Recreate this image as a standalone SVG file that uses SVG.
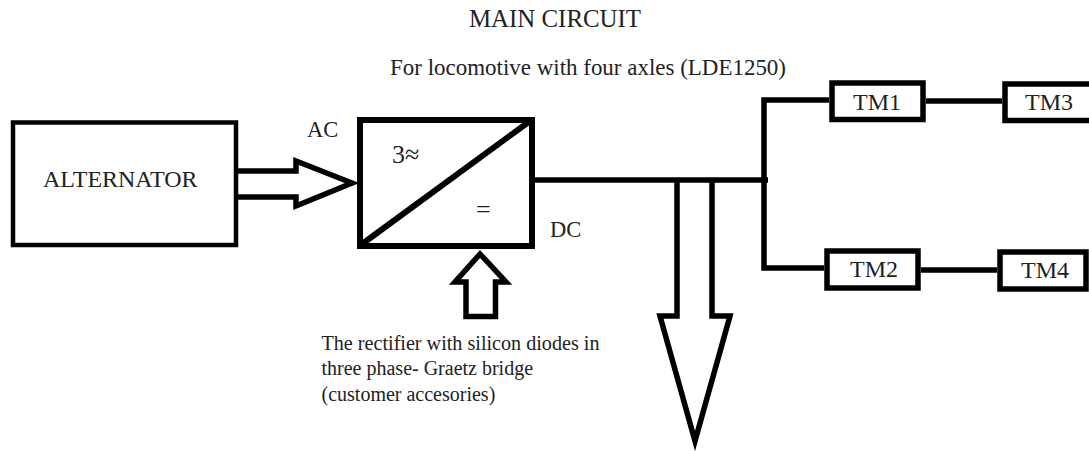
<svg xmlns="http://www.w3.org/2000/svg" width="1089" height="451" viewBox="0 0 1089 451">
<style>
text{font-family:"Liberation Serif","Times New Roman",serif;fill:#222}
.t{font-size:24px}
.s{font-size:20px}
.box{fill:#fff;stroke:#000;stroke-width:5.500}
.ln{fill:none;stroke:#000;stroke-width:5.500;stroke-linejoin:miter}
</style>
<rect width="1089" height="451" fill="#fff"/>
<g id="connectors">
<path class="ln" d="M238 171H296V161L352 183L296 206V197H238"/>
<path class="ln" d="M535 180H768"/>
<path class="ln" d="M829 100H764V268H824"/>
<path class="ln" d="M926 101H1002"/>
<path class="ln" d="M921 270H997"/>
<path class="ln" d="M677 180V316H660L695 441L730 316H712V180"/>
<path class="ln" d="M466 316.500V282H455L480 254L506 282H495.500V316.500Z"/>
</g>
<g id="title"><text x="469" y="27" font-size="25" textLength="172" lengthAdjust="spacingAndGlyphs">MAIN CIRCUIT</text></g>
<g id="subtitle"><text x="390" y="75" font-size="23" textLength="396" lengthAdjust="spacingAndGlyphs">For locomotive with four axles (LDE1250)</text></g>
<g id="alternator"><rect class="box" style="stroke-width:4.500" x="13" y="122.500" width="223" height="122.500"/><text class="t" x="43" y="187" textLength="154.500" lengthAdjust="spacingAndGlyphs">ALTERNATOR</text></g>
<g id="rectifier">
<rect class="box" style="stroke-width:6" x="360" y="120" width="172" height="126"/>
<path class="ln" style="stroke-width:6" d="M362 244L530 121"/>
<text x="392" y="163" font-size="26">3≈</text>
<text x="476" y="218" font-size="26">=</text>
</g>
<g id="ac"><text x="307" y="137" font-size="22.500">AC</text></g>
<g id="dc"><text x="550" y="237" font-size="22.500">DC</text></g>
<g id="tm1"><rect class="box" x="832" y="83" width="91" height="36.500"/><text class="t" x="853" y="110">TM1</text></g>
<g id="tm3"><rect class="box" x="1005" y="84" width="90" height="36.500"/><text class="t" x="1025" y="110">TM3</text></g>
<g id="tm2"><rect class="box" x="827" y="251" width="91" height="37"/><text class="t" x="850" y="277">TM2</text></g>
<g id="tm4"><rect class="box" x="1000" y="252" width="86" height="37"/><text class="t" x="1021" y="278">TM4</text></g>
<g id="note">
<text class="s" x="321.500" y="350" textLength="278" lengthAdjust="spacingAndGlyphs">The rectifier with silicon diodes in</text>
<text class="s" x="321.500" y="375">three phase- Graetz bridge</text>
<text class="s" x="321.500" y="401">(customer accesories)</text>
</g>
</svg>
